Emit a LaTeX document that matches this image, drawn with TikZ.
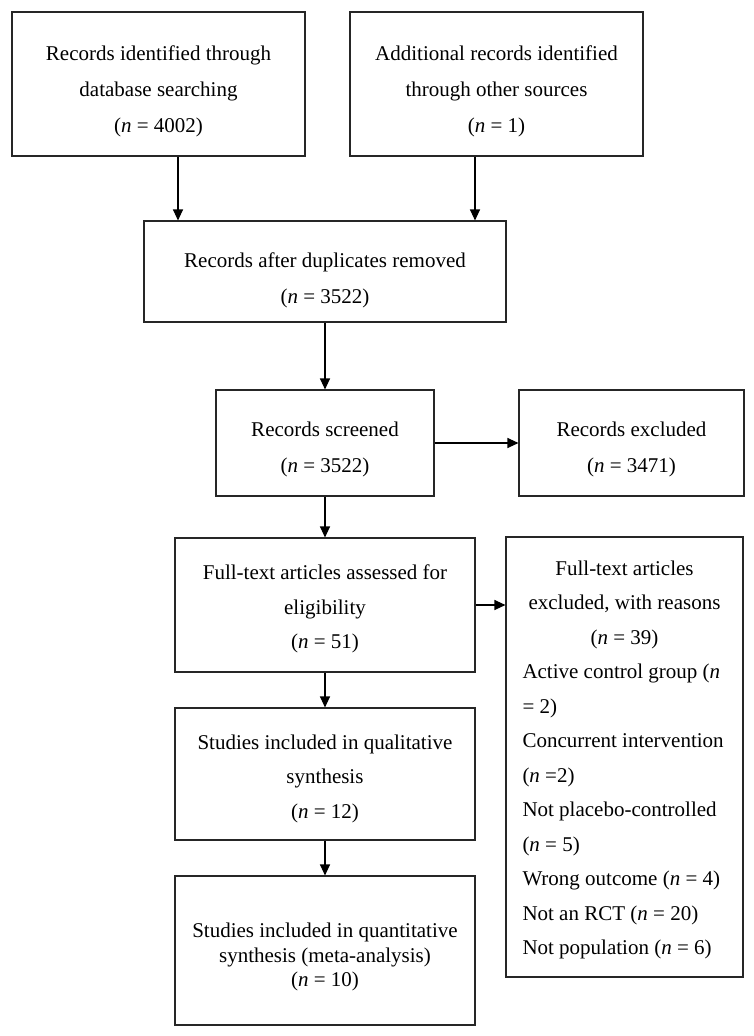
\documentclass[tikz,border=0pt]{standalone}
\usepackage{fontspec}
\setmainfont{Liberation Serif}
\usepackage{tikz}
\usetikzlibrary{arrows.meta,positioning}
\tikzstyle{box} = [draw=black!85, line width=1.1pt, rectangle, align=center, inner sep=0pt,
font=\fontsize{21}{34.5}\selectfont]
\tikzstyle{widebox} = [box, font=\fontsize{21}{36}\selectfont]
\tikzstyle{tightbox} = [box, font=\fontsize{21}{24.5}\selectfont]
\tikzstyle{flowArrow} = [line width=1.1pt, -{Triangle[length=11pt,width=10pt]}]
\newcommand{\nitalic}{\textit{n}}
\newcommand{\midline}[1]{\makebox[204pt][c]{#1}}
% pushes the text of a box down by #1pt
\newcommand{\textdrop}[1]{\rule{0pt}{\dimexpr14.5pt+#1pt*2\relax}}

\begin{document}
\begin{tikzpicture}[x=1pt, y=-1pt]
		\useasboundingbox (0,0) rectangle (754,1036);
		%blocks
		\node[widebox, minimum width=293pt, minimum height=144pt](ident) at (158.5,84)
			{\textdrop{7.5}Records identified through\\database searching\\(\nitalic{} = 4002)};
		\node[widebox, minimum width=293pt, minimum height=144pt](other) at (496.5,84)
			{\textdrop{7.5}Additional records identified\\through other sources\\(\nitalic{} = 1)};
		\node[widebox, minimum width=362pt, minimum height=101pt](dupl) at (325,271.5)
			{\textdrop{9}Records after duplicates removed\\(\nitalic{} = 3522)};
		\node[widebox, minimum width=218pt, minimum height=106pt](screen) at (325,443)
			{\textdrop{6}Records screened\\(\nitalic{} = 3522)};
		\node[widebox, minimum width=225pt, minimum height=106pt](recexcl) at (631.5,443)
			{\textdrop{6}Records excluded\\(\nitalic{} = 3471)};
		\node[box, minimum width=300pt, minimum height=134pt](fulltext) at (325,605)
			{\textdrop{4}Full-text articles assessed for\\eligibility\\(\nitalic{} = 51)};
		\node[box, align=left, inner xsep=16.5pt, minimum height=440pt](ftexcl) at (624.5,757)
			{\textdrop{3}\midline{Full-text articles}\\\midline{excluded, with reasons}\\\midline{(\nitalic{} = 39)}\\
			Active control group (\nitalic\\= 2)\\
			Concurrent intervention\\(\nitalic{} =2)\\
			Not placebo-controlled\\(\nitalic{} = 5)\\
			Wrong outcome (\nitalic{} = 4)\\
			Not an RCT (\nitalic{} = 20)\\
			Not population (\nitalic{} = 6)};
		\node[box, minimum width=300pt, minimum height=132pt](qual) at (325,774)
			{\textdrop{4.5}Studies included in qualitative\\synthesis\\(\nitalic{} = 12)};
		\node[tightbox, minimum width=300pt, minimum height=149pt](quant) at (325,950.5)
			{\textdrop{6.5}Studies included in quantitative\\synthesis (meta-analysis)\\(\nitalic{} = 10)};

		%arrows
		\draw[flowArrow]([xshift=19.5pt]ident.south)--([xshift=19.5pt]ident.south |- dupl.north);
		\draw[flowArrow]([xshift=-21.5pt]other.south)--([xshift=-21.5pt]other.south |- dupl.north);
		\draw[flowArrow](dupl)--(screen);
		\draw[flowArrow](screen)--(recexcl);
		\draw[flowArrow](screen)--(fulltext);
		\draw[flowArrow](fulltext.east)--(fulltext.east -| ftexcl.west);
		\draw[flowArrow](fulltext)--(qual);
		\draw[flowArrow](qual)--(quant);
	\end{tikzpicture}
\end{document}
